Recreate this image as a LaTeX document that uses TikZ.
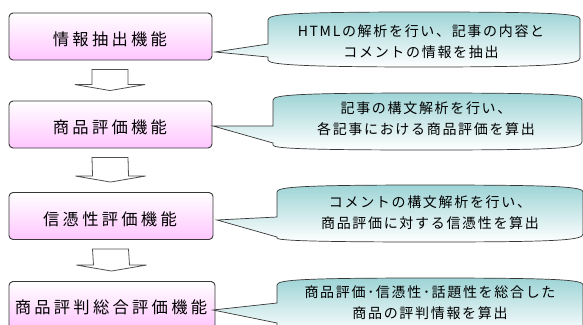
\documentclass[tikz,border=0pt]{standalone}
\usepackage{fontspec}
\setmainfont{Noto Sans CJK JP}
\newfontfamily\boxfont[LetterSpace=20]{Noto Sans CJK JP}
\newfontfamily\callfont[LetterSpace=12]{Noto Sans CJK JP}
\usetikzlibrary{calc}
\definecolor{pinkb}{RGB}{255,198,255}
\definecolor{tealt}{RGB}{158,212,214}
\definecolor{edgec}{RGB}{55,55,55}
\definecolor{arrowc}{RGB}{80,80,80}
\tikzset{
  fbox/.style={draw=edgec, line width=0.9pt, rounded corners=4pt,
    top color=white, bottom color=pinkb, minimum height=47pt,
    inner sep=0pt, font=\boxfont\fontsize{16}{18}\selectfont},
  btext/.style={inner sep=0pt, font=\boxfont\fontsize{16.3}{18}\selectfont},
  cbox/.style={draw=edgec, line width=0.7pt, top color=tealt, bottom color=white},
  ctext/.style={align=center, inner sep=0pt, font=\callfont\fontsize{14}{21}\selectfont},
  hollow/.style={draw=arrowc, line width=0.8pt, fill=white}
}
\begin{document}
\begin{tikzpicture}[x=1pt,y=-1pt]
\useasboundingbox (0,0) rectangle (583,324);
\clip (0,0) rectangle (583,324);
\fill[white] (0,0) rectangle (583,324);

% function boxes
\node[fbox, minimum width=203pt] (b1) at (110.5,36.5) {};
\node[fbox, minimum width=203pt] (b2) at (110.5,124.5) {};
\node[fbox, minimum width=204pt] (b3) at (111,216) {};
\node[fbox, minimum width=206pt] (b4) at (112,305) {};
\node[btext] (t1) at (110,39) {情報抽出機能};
\node[btext] (t2) at (110,127) {商品評価機能};
\node[btext] (t3) at (110,219) {信憑性評価機能};
\node[btext] (t4) at (111,307) {商品評判総合評価機能};

% hollow arrows between boxes
\foreach \a/\b in {b1/b2,b2/b3,b3/b4}{
  \path ($(\a.south)+(-0.5,9)$) coordinate (s) ($(\b.north)+(-0.5,-10)$) coordinate (e);
  \draw[hollow] ($(s)+(-18,0)$) -- ($(s)+(18,0)$) -- ($(e)+(18,-6)$) -- ($(e)+(35,-6)$)
     -- (e) -- ($(e)+(-35,-6)$) -- ($(e)+(-18,-6)$) -- cycle;
}

% callouts
\coordinate (p1) at (215,52);
\coordinate (p2) at (213,126);
\coordinate (p3) at (217,220);
\coordinate (p4) at (213,310);

\draw[cbox] (268,44) -- (268,20) .. controls (268,14) and (290,12) .. (424,12)
  .. controls (558,12) and (580,14) .. (580,19) -- (580,58)
  .. controls (580,64) and (558,67) .. (424,67)
  .. controls (290,67) and (268,64) .. (268,60) -- (268,57) -- (p1) -- cycle;

\draw[cbox] (273,126) -- (273,100) .. controls (273,95) and (295,93) .. (427,93)
  .. controls (560,93) and (582,95) .. (582,100) -- (582,142)
  .. controls (582,148) and (560,150) .. (427,150)
  .. controls (295,150) and (273,148) .. (273,145) -- (273,143) -- (p2) -- cycle;

\draw[cbox] (277,217) -- (277,192) .. controls (277,187) and (299,185) .. (430,185)
  .. controls (562,185) and (583,187) .. (583,192) -- (583,234)
  .. controls (583,240) and (562,242) .. (430,242)
  .. controls (299,242) and (277,240) .. (277,238) -- (277,237) -- (p3) -- cycle;

\draw[cbox] (277,303) -- (277,285) .. controls (277,280) and (299,278) .. (430,278)
  .. controls (562,278) and (583,280) .. (583,285) -- (583,335)
  -- (277,335) -- (277,323) -- (p4) -- cycle;

\node[ctext] (c1) at (421,42) {HTMLの解析を行い、記事の内容と\\コメントの情報を抽出};
\node[ctext] (c2) at (426,119) {記事の構文解析を行い、\\各記事における商品評価を算出};
\node[ctext] (c3) at (430,212.5) {コメントの構文解析を行い、\\商品評価に対する信憑性を算出};
\node[ctext] (c4) at (430,303) {商品評価･信憑性･話題性を総合した\\商品の評判情報を算出};
\end{tikzpicture}
\end{document}
